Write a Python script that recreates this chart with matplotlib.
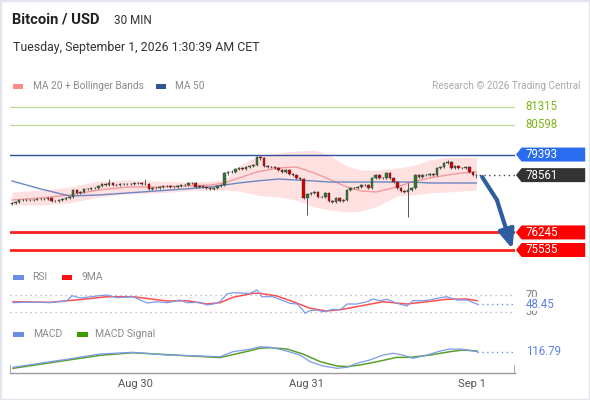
import matplotlib
matplotlib.use("Agg")
import matplotlib.pyplot as plt
import numpy as np
from matplotlib.patches import Polygon, Rectangle, FancyArrowPatch

plt.rcParams['font.family'] = ['Roboto', 'DejaVu Sans']

# ---------------- data ----------------
OPEN = [77400,77435,77475,77556,77556,77560,77550,77565,77597,77600,
        77590,77637,77516,77520,77556,77597,77637,77677,77960,77839,
        77879,78001,77995,78041,78045,78122,78203,78162,78243,78162,
        78170,78203,78200,78210,78203,78243,78240,78203,78210,78001,
        78041,78045,78081,78122,78118,78081,78085,78122,78162,78165,
        78243,78240,78081,78122,78081,78041,78001,78041,78122,78162,
        78647,78688,78690,78809,78849,78809,78890,78930,78971,79294,
        79254,78930,78890,78895,78849,78769,78688,78769,78607,78566,
        78445,78405,77637,77799,77839,77879,77677,77680,77839,77516,
        77475,77637,77516,77556,77960,78041,78045,78081,78162,78165,
        78041,78445,78566,78445,78450,78647,78445,78284,78041,77920,
        77879,77960,78041,78566,78486,78566,78570,78607,78566,78849,
        78890,79051,79092,78849,78930,78849,78855,78890,78688,78566]
CLOSE = [77435,77475,77556,77556,77560,77550,77565,77597,77600,77590,
         77637,77516,77520,77556,77597,77637,77677,77960,77839,77879,
         78001,77995,78041,78045,78122,78203,78162,78243,78162,78170,
         78203,78200,78210,78203,78243,78240,78203,78210,78001,78041,
         78045,78081,78122,78118,78081,78085,78122,78162,78165,78243,
         78240,78081,78122,78081,78041,78001,78041,78122,78162,78647,
         78688,78690,78809,78849,78809,78890,78930,78971,79294,79254,
         78930,78890,78895,78849,78769,78688,78769,78607,78566,78445,
         78405,77637,77799,77839,77879,77677,77680,77839,77516,77475,
         77637,77516,77556,77960,78041,78045,78081,78162,78165,78041,
         78445,78566,78445,78450,78647,78445,78284,78041,77920,77879,
         77960,78041,78566,78486,78566,78570,78607,78566,78849,78890,
         79051,79092,78849,78930,78849,78855,78890,78688,78566,78561]
HIGH = [77470,77510,77590,77600,77600,77595,77600,77630,77640,77635,
        77680,77660,77560,77590,77630,77670,77710,78000,77990,77920,
        78040,78040,78080,78090,78160,78240,78240,78405,78280,78210,
        78240,78240,78250,78245,78280,78280,78270,78405,78240,78080,
        78080,78120,78160,78160,78150,78120,78160,78200,78200,78280,
        78280,78270,78160,78160,78110,78080,78080,78160,78200,78690,
        78730,78760,78850,78900,78890,78930,78970,79010,79334,79330,
        79280,78970,78940,78940,78890,78800,78810,78800,78650,78600,
        78480,78450,77840,77880,77920,77910,77720,77880,77870,77560,
        77680,77680,77600,78000,78080,78090,78120,78200,78210,78200,
        78480,78610,78600,78490,78690,78680,78480,78320,78080,77960,
        78243,78080,78600,78600,78610,78610,78650,78640,78890,78930,
        79090,79173,79130,78970,78970,78890,78930,78930,78720,78600]
LOW = [77370,77410,77450,77520,77525,77515,77520,77540,77560,77555,
       77560,77490,77480,77490,77530,77570,77610,77650,77800,77810,
       77850,77960,77960,78000,78010,78090,78130,78130,78130,78130,
       78140,78170,78170,78170,78170,78210,78170,78170,77970,77960,
       78000,78010,78050,78090,78050,78050,78050,78090,78130,78130,
       78200,78050,78050,78050,78010,77970,77970,78010,78090,78130,
       78560,78640,78650,78770,78770,78770,78850,78890,78930,79180,
       78900,78850,78850,78810,78730,78650,78650,78570,78520,78400,
       78360,77600,76950,77760,77800,77640,77640,77640,77475,77430,
       77440,77480,77480,77520,77920,78000,78000,78040,78120,78000,
       78000,78400,78400,78400,78410,78410,78240,78000,77880,77840,
       76870,77920,78000,78440,78450,78530,78530,78530,78530,78810,
       78850,79010,78810,78810,78810,78810,78810,78650,78520,78445]

# moving average / Bollinger samples (candle index)
BAND_X = [0, 8, 16, 24, 32, 40, 48, 55, 59, 63, 68, 74, 79, 84, 88, 93, 97, 101, 107, 111, 116, 121, 125, 129]
MA20 = [77556,77637,77758,77960,78081,78081,78122,78162,78243,78445,78688,78849,78890,78647,78405,78081,77920,77879,78081,78284,78445,78566,78647,78688]
BB_UP = [77879,77960,78081,78324,78364,78324,78284,78324,78364,78930,79334,79456,79537,79577,79375,78930,78769,78769,78849,78930,79173,79294,79294,79294]
BB_LO = [77354,77354,77435,77677,77799,77839,77920,77960,77960,77920,77758,77677,77556,77273,77152,77071,77111,77273,77718,77758,77839,77879,77920,77960]
MA50 = [78324,78001,77718,77758,77839,77920,78001,78081,78162,78243,78324,78405,78364,78324,78284,78284,78284,78284,78284,78284,78243,78243,78243,78243]

# key levels
RES_LEVELS = [81315, 80598]
PIVOT = 79393
LAST = 78561
SUP_LEVELS = [76245, 75535]

# RSI
RSI_X = [0.3,5.8,10.6,15.3,16.7,18.9,24.4,26.4,29.2,33.6,37.5,40.3,43.1,46.7,48.6,52.2,54.2,55.8,57.8,59.7,
         61.4,65.3,66.1,68.1,69.4,72.5,75.3,77.2,79.2,80.8,81.4,82.8,84.7,86.4,89.2,91.1,93.1,95.8,98.6,100.3,
         102.2,104.2,106.9,109.7,111.4,114.2,116.1,118.1,120.8,123.6,126.4,129.2]
RSI_V = [51.9,53.5,51.9,56.6,68.4,62.9,68.4,70.0,63.6,66.0,51.2,54.2,51.9,58.2,51.9,52.8,46.5,48.8,54.2,72.4,
         75.4,74.0,74.0,81.8,66.0,66.0,56.6,50.5,48.8,34.7,27.0,33.1,34.7,30.7,36.4,34.7,48.8,48.8,54.2,60.6,
         56.6,59.9,50.5,44.1,56.6,56.6,58.2,62.2,66.0,58.2,58.2,48.45]
MA9_X = [0.3,10.6,19.7,26.4,33.6,43.1,48.6,54.2,57.8,61.4,66.9,68.9,73.6,78.1,82.8,87.5,91.9,96.7,103.1,109.7,115.3,120.8,126.4,129.2]
MA9_V = [54.2,52.8,59.9,66.0,66.0,55.9,56.6,48.8,51.9,64.6,74.0,74.0,67.6,54.2,38.7,32.4,36.4,44.1,54.2,48.8,54.2,59.9,60.6,56.6]
RSI_LAST = 48.45

# MACD
MACD_X = [0.3,10.6,15.3,24.4,33.6,43.1,52.2,57.8,61.4,66.1,68.9,71.7,75.3,80.0,82.8,86.4,90.3,93.1,95.8,99.4,
          103.1,105.8,108.6,111.4,115.3,118.9,121.7,125.3,129.2]
MACD_V = [-31,22,45,95,111,85,76,69,117,140,164,159,133,85,22,-19,-41,-31,7,38,85,102,85,54,85,123,142,140,116.79]
SIG_X = [0.3,24.4,33.6,57.8,66.1,68.9,71.7,76.4,80.8,85.6,90.3,93.1,96.7,101.4,106.9,110.6,116.1,121.7,125.3,129.2]
SIG_V = [-41,82,107,61,126,150,155,142,95,22,-19,-25,-9,22,63,63,85,117,133,123]
MACD_LAST = 116.79

TICK_POS = [34.2, 81.9, 127.8]
TICK_LABELS = ["Aug 30", "Aug 31", "Sep 1"]

# ---------------- figure ----------------
W, H = 590, 400
fig = plt.figure(figsize=(W / 100, H / 100), dpi=100)
fig.patch.set_facecolor('white')

def fx(px):
    return px / W

def fy(py):
    return 1 - py / H

XL = (-0.556, 139.72)

def panel(y0, y1):
    ax = fig.add_axes([fx(10), fy(y1), 505 / W, (y1 - y0) / H])
    ax.set_xlim(*XL)
    for s in ax.spines.values():
        s.set_visible(False)
    ax.set_xticks([])
    ax.set_yticks([])
    ax.patch.set_alpha(0)
    return ax

# frame
fig.patches.append(Rectangle((0, 0), 1, 1, transform=fig.transFigure, fill=False,
                             edgecolor='#e4e6ee', lw=2.5))

# titles
fig.text(fx(12), fy(20), "Bitcoin / USD", weight='bold', fontsize=10.6, color='#222222', va='center')
fig.text(fx(114), fy(20), "30 MIN", fontsize=8.5, color='#333333', va='center')
fig.text(fx(13), fy(48), "Tuesday, September 1, 2026 1:30:39 AM CET", fontsize=8.9, color='#333333', va='center')

def legend_patch(x0, x1, yc, color):
    fig.patches.append(Rectangle((fx(x0), fy(yc + 2.5)), (x1 - x0) / W, 5 / H,
                                 transform=fig.transFigure, color=color, lw=0))

legend_patch(13, 23, 86, '#ff8a8a')
fig.text(fx(33), fy(86), "MA 20 + Bollinger Bands", fontsize=7.3, color='#8a8a8a', va='center')
legend_patch(156, 166, 86, '#2f5597')
fig.text(fx(175), fy(86), "MA 50", fontsize=7.3, color='#8a8a8a', va='center')
fig.text(fx(580), fy(86), "Research \u00a9 2026 Trading Central", fontsize=7.2, color='#aaaaaa', va='center', ha='right')

# ---------------- main price panel ----------------
ax = panel(95, 262)
PY = lambda py: 81315 - (py - 107) * 40.42
ax.set_ylim(PY(262), PY(95))

ax.fill_between(BAND_X, BB_LO, BB_UP, color='#ffe1e1', lw=0, zorder=1)
ax.plot(BAND_X, MA20, color='#f39a9a', lw=1.0, zorder=2)
ax.plot(BAND_X, MA50, color='#5a7cc0', lw=1.0, alpha=0.9, zorder=2)

for lv in RES_LEVELS:
    ax.axhline(lv, color='#c2d99c', lw=0.9, zorder=1)
ax.axhline(PIVOT, color='#2d4f9c', lw=1.0, zorder=1)
for lv in SUP_LEVELS:
    ax.axhline(lv, color='#ff2020', lw=2.0, zorder=1)

o = np.array(OPEN, float)
c = np.array(CLOSE, float)
hi = np.array(HIGH, float)
lo = np.array(LOW, float)
idx = np.arange(len(c))
cols = np.where(c > o, '#2f7a2f', np.where(c < o, '#d10000', '#777777'))
ax.vlines(idx, lo, hi, color='#555555', lw=0.7, zorder=3)
bottom = np.minimum(o, c)
height = np.maximum(np.abs(c - o), 18)
ax.bar(idx, height, bottom=bottom, width=0.72, color=cols, edgecolor='#3a3a3a', lw=0.3, zorder=4)

# last price dotted
ax.plot([idx[-1] + 0.8, XL[1]], [LAST, LAST], color='#444444', lw=1.0, ls=(0, (1, 2.5)), zorder=2)

# forecast arrow
ARROW_X = [130.6, 134.7, 139.0]
ARROW_Y = [78486, 77556, 75580]
ax.plot(ARROW_X[:2], ARROW_Y[:2], color='#2e5e9f', lw=3.0, solid_capstyle='round', zorder=6, clip_on=False)
ax.add_patch(FancyArrowPatch((ARROW_X[1], ARROW_Y[1]), (ARROW_X[2], ARROW_Y[2]),
                             arrowstyle='-|>,head_length=0.75,head_width=0.32', mutation_scale=15,
                             color='#2e5e9f', lw=3.0, zorder=6, clip_on=False, shrinkA=0, shrinkB=0))

tr = ax.get_yaxis_transform()
hh = 7 * 40.42

def tag(y, text, color):
    verts = [(1.002, y), (1.013, y + hh), (1.139, y + hh), (1.139, y - hh), (1.013, y - hh)]
    ax.add_patch(Polygon(verts, closed=True, transform=tr, facecolor=color, edgecolor='none',
                         clip_on=False, zorder=7))
    ax.text(1.021, y, text, transform=tr, color='white', fontsize=8.3, va='center', ha='left',
            clip_on=False, zorder=8)

for lv in RES_LEVELS:
    ax.text(1.021, lv, f"{lv}", transform=tr, color='#7cb518', fontsize=8.3, va='center', ha='left', clip_on=False)
tag(PIVOT, f"{PIVOT}", '#2a6cf0')
tag(LAST, f"{LAST}", '#333333')
for lv in SUP_LEVELS:
    tag(lv, f"{lv}", '#ff0000')

# ---------------- RSI panel ----------------
legend_patch(13, 24, 277, '#6a8ee8')
fig.text(fx(32), fy(277), "RSI", fontsize=7.5, color='#8a8a8a', va='center')
legend_patch(62, 72, 277, '#ff1010')
fig.text(fx(82), fy(277), "9MA", fontsize=7.5, color='#8a8a8a', va='center')

ar = panel(285, 320)
RY = lambda py: 70 - (py - 295) / 0.425
ar.set_ylim(RY(320), RY(285))
for lv in (70, 30):
    ar.axhline(lv, color='#b0b0b0', lw=0.9, ls=(0, (1, 3)), zorder=1)
ar.plot(MA9_X, MA9_V, color='#ff3b3b', lw=1.1, alpha=0.9, zorder=2)
ar.plot(RSI_X, RSI_V, color='#7b9bea', lw=0.9, zorder=3)
ar.plot([RSI_X[-1], XL[1]], [RSI_LAST, RSI_LAST], color='#6a8ee8', lw=1.0, ls=(0, (1, 2.5)), zorder=2)
trr = ar.get_yaxis_transform()
ar.text(1.021, 70, "70", transform=trr, color='#777777', fontsize=8.0, va='center', ha='left', clip_on=False)
ar.text(1.021, 30, "30", transform=trr, color='#777777', fontsize=8.0, va='center', ha='left', clip_on=False)
ar.text(1.021, RSI_LAST, f"{RSI_LAST:.2f}", transform=trr, color='#5b80e6', fontsize=8.3, va='center', ha='left',
        clip_on=False, bbox=dict(facecolor='white', edgecolor='none', pad=0.3))

# ---------------- MACD panel ----------------
legend_patch(13, 24, 334, '#6a8ee8')
fig.text(fx(33), fy(334), "MACD", fontsize=7.5, color='#8a8a8a', va='center')
legend_patch(77, 88, 334, '#3d9a00')
fig.text(fx(95), fy(334), "MACD Signal", fontsize=7.5, color='#8a8a8a', va='center')

am = panel(340, 373)
MY = lambda py: MACD_LAST + (351.7 - py) * 9.5
am.set_ylim(MY(373), MY(340))
am.plot(SIG_X, SIG_V, color='#5aa02c', lw=1.1, zorder=2)
am.plot(MACD_X, MACD_V, color='#7b9bea', lw=0.9, zorder=3)
am.plot([MACD_X[-1], XL[1]], [MACD_LAST, MACD_LAST], color='#6a8ee8', lw=1.0, ls=(0, (1, 2.5)), zorder=2)
trm = am.get_yaxis_transform()
am.text(1.021, MACD_LAST, f"{MACD_LAST:.2f}", transform=trm, color='#5b80e6', fontsize=8.3, va='center',
        ha='left', clip_on=False)

am.spines['bottom'].set_visible(True)
am.spines['bottom'].set_color('#9a9a9a')
am.spines['bottom'].set_linewidth(1.0)
am.set_xticks(TICK_POS)
am.set_xticklabels(TICK_LABELS)
am.tick_params(axis='x', length=0, pad=4, labelsize=8, labelcolor='#555555')
for xe in XL:
    am.axvline(xe, ymin=0, ymax=0.2, color='#9a9a9a', lw=1.2)

fig.savefig("out.png", dpi=100)
